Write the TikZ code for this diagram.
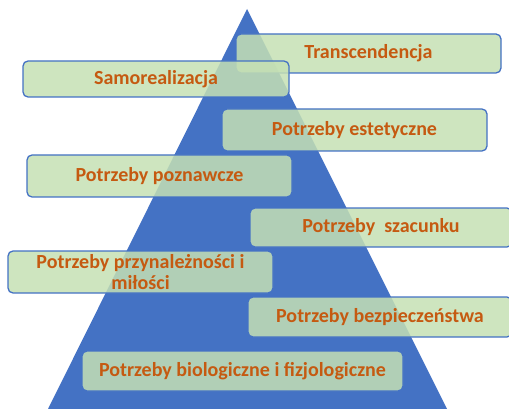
\documentclass[tikz,border=0pt]{standalone}
\usepackage{fontspec}
\setmainfont{Carlito}
\definecolor{tri}{HTML}{4472C4}
\definecolor{boxfill}{HTML}{C5E0B4}
\definecolor{txt}{HTML}{C55A11}
\begin{document}
\begin{tikzpicture}[x=1pt,y=-1pt,
  lvl/.style={draw=tri,line width=1.3pt,rounded corners=5pt,fill=boxfill,fill opacity=0.85,text opacity=1,
    text=txt,font=\bfseries\fontsize{20}{21}\selectfont,align=center,inner sep=0pt}]
\useasboundingbox (0,0) rectangle (509,409);
\begin{scope}
\clip (0,0) rectangle (509,409);
\fill[tri] (247,9) coordinate (apex) -- (447,409) -- (48,409) -- cycle;
\node[lvl,minimum width=265,minimum height=39] (t) at (368.5,53.5) {Transcendencja};
\node[lvl,minimum width=266,minimum height=36] (s) at (156,79) {Samorealizacja};
\node[lvl,minimum width=265,minimum height=42] (e) at (354.5,130) {Potrzeby estetyczne};
\node[lvl,minimum width=265,minimum height=42] (p) at (159.5,176) {Potrzeby poznawcze};
\node[lvl,minimum width=262,minimum height=39] (sz) at (381,227.5) {Potrzeby\ \ szacunku};
\node[lvl,minimum width=265,minimum height=42] (m) at (140.5,272) {Potrzeby przynależności i\\miłości};
\node[lvl,minimum width=264,minimum height=40] (b) at (380,317) {Potrzeby bezpieczeństwa};
\node[lvl,minimum width=321,minimum height=40] (bio) at (242.5,371) {Potrzeby biologiczne i fizjologiczne};
\end{scope}
\end{tikzpicture}
\end{document}
